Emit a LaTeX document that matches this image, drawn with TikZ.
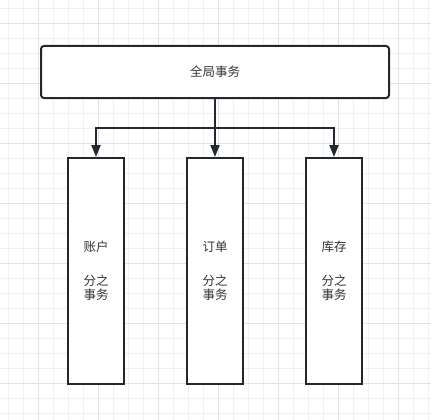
\documentclass[tikz,border=0pt]{standalone}
\usepackage{fontspec}
\setmainfont{Noto Sans CJK SC}
\usetikzlibrary{arrows.meta}
\definecolor{ink}{RGB}{35,40,46}
\definecolor{txt}{RGB}{51,51,51}
\definecolor{gridminor}{RGB}{240,240,240}
\definecolor{gridmajor}{RGB}{226,226,226}
\begin{document}
\begin{tikzpicture}[x=1pt,y=-1pt,
  box/.style={draw=ink,line width=2pt,fill=white,inner sep=0pt,font=\fontsize{12.5}{14.5}\selectfont,text=txt,align=center},
  conn/.style={draw=ink,line width=2pt,-{Triangle[length=12pt,width=9pt]}}]
\useasboundingbox (0,0) rectangle (431,420);
\fill[white] (0,0) rectangle (431,420);
\foreach \i in {0,...,28} {
  \draw[gridminor,line width=1pt] (8.3+15*\i,0) -- (8.3+15*\i,420);
  \draw[gridminor,line width=1pt] (0,8.3+15*\i) -- (431,8.3+15*\i);
}
\foreach \i in {0,...,6} {
  \draw[gridmajor,line width=1pt] (38.3+60*\i,0) -- (38.3+60*\i,420);
  \draw[gridmajor,line width=1pt] (0,23.3+60*\i) -- (431,23.3+60*\i);
}
\node[box,rounded corners=3pt,minimum width=348pt,minimum height=52pt] (top) at (215,72) {全局事务};
\node[box,minimum width=56pt,minimum height=226pt] (b1) at (96,271) {账户\\[19pt]分之\\事务};
\node[box,minimum width=56pt,minimum height=226pt] (b2) at (215,271) {订单\\[19pt]分之\\事务};
\node[box,minimum width=56pt,minimum height=226pt] (b3) at (334,271) {库存\\[19pt]分之\\事务};
\coordinate (j) at (215,128);
\draw[conn] (top.south) -- (j) -| (b1.north);
\draw[conn] (top.south) -- (b2.north);
\draw[conn] (j) -| (b3.north);
\end{tikzpicture}
\end{document}
